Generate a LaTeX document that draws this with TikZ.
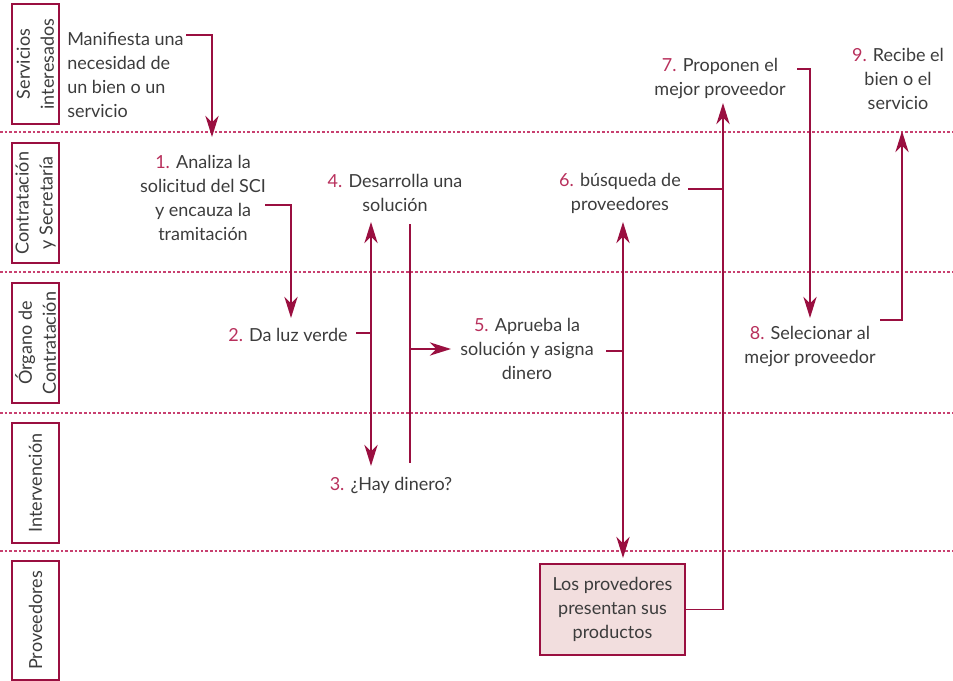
\documentclass[tikz,border=0pt]{standalone}
\usepackage{fontspec}
\setmainfont{Lato}
\usetikzlibrary{arrows.meta}
\definecolor{lncol}{HTML}{9A0F40}
\definecolor{dashcol}{HTML}{C84070}
\definecolor{numcol}{HTML}{B8305C}
\definecolor{txtgray}{HTML}{3C3C3C}
\definecolor{boxfill}{HTML}{F2DEDE}
\newcommand\nm[1]{\textcolor{numcol}{#1}}
\tikzset{
 txt/.style={text=txtgray, font=\fontsize{13.5}{18}\selectfont, align=center, inner sep=0pt},
 lanetxt/.style={txt, rotate=90},
 conn/.style={draw=lncol, line width=1.1pt},
 arr/.style={conn, -{Stealth[length=16pt,width=10pt,inset=5pt]}},
 darr/.style={conn, {Stealth[length=16pt,width=10pt,inset=5pt]}-{Stealth[length=16pt,width=10pt,inset=5pt]}},
 lanebox/.style={draw=lncol, line width=0.9pt},
 sepline/.style={draw=dashcol, line width=0.8pt, dash pattern=on 2pt off 1.5pt},
}
\begin{document}
\begin{tikzpicture}[x=0.75pt,y=-0.75pt]
\useasboundingbox (0,0) rectangle (953,681);
% lanes
\draw[lanebox] (12,4) rectangle (59,124);
\node[lanetxt] (l1) at (35.5,64) {Servicios\\interesados};
\draw[lanebox] (12,143) rectangle (59,263);
\node[lanetxt] (l2) at (35.5,203) {Contratación\\y Secretaría};
\draw[lanebox] (12,283) rectangle (59,403);
\node[lanetxt] (l3) at (35.5,343) {Órgano de\\Contratación};
\draw[lanebox] (12,423) rectangle (59,543);
\node[lanetxt] (l4) at (35.5,483) {Intervención};
\draw[lanebox] (12,561) rectangle (59,680);
\node[lanetxt] (l5) at (35.5,620.5) {Proveedores};
% separators
\coordinate (s1a) at (0,132); \coordinate (s1b) at (953,132);
\coordinate (s2a) at (0,272); \coordinate (s2b) at (953,272);
\coordinate (s3a) at (0,413); \coordinate (s3b) at (953,413);
\coordinate (s4a) at (0,551); \coordinate (s4b) at (953,551);
\draw[sepline] (s1a) -- (s1b);
\draw[sepline] (s2a) -- (s2b);
\draw[sepline] (s3a) -- (s3b);
\draw[sepline] (s4a) -- (s4b);
% texts
\node[txt, align=left, anchor=west] (m) at (67,75) {Manifiesta una\\necesidad de\\un bien o un\\servicio};
\node[txt] (n1) at (203,198) {\nm{1.} Analiza la\\solicitud del SCI\\y encauza la\\tramitación};
\node[txt] (n2) at (288,335) {\nm{2.} Da luz verde};
\node[txt] (n3) at (391,485) {\nm{3.} ¿Hay dinero?};
\node[txt] (n4) at (395,193) {\nm{4.} Desarrolla una\\solución};
\node[txt] (n5) at (527,349) {\nm{5.} Aprueba la\\solución y asigna\\dinero};
\node[txt] (n6) at (620,193) {\nm{6.} búsqueda de\\proveedores};
\node[txt] (n7) at (720,79) {\nm{7.} Proponen el\\mejor proveedor};
\node[txt] (n8) at (810,347) {\nm{8.} Selecionar al\\mejor proveedor};
\node[txt] (n9) at (898,79) {\nm{9.} Recibe el\\bien o el\\servicio};
\node[txt, draw=lncol, line width=0.9pt, fill=boxfill, minimum width=108.75pt, minimum height=68.25pt] (box) at (612.5,609.5) {Los provedores\\presentan sus\\productos};
% connectors
\coordinate (c0a) at (186,35); \coordinate (c0b) at (212,137);
\draw[arr] (c0a) -| (c0b);
\coordinate (c1a) at (265,205); \coordinate (c1b) at (291,318);
\draw[arr] (c1a) -| (c1b);
\coordinate (c2a) at (356,333); \coordinate (c2b) at (371,333);
\draw[conn] (c2a) -- (c2b);
\coordinate (c34a) at (371,222); \coordinate (c34b) at (371,466);
\draw[darr] (c34a) -- (c34b);
\coordinate (c4a) at (410,224); \coordinate (c4b) at (410,463);
\draw[conn] (c4a) -- (c4b);
\coordinate (c45a) at (410,349); \coordinate (c45b) at (451,349);
\draw[arr] (c45a) -- (c45b);
\coordinate (c5a) at (606,351); \coordinate (c5b) at (623,351);
\draw[conn] (c5a) -- (c5b);
\coordinate (c6a) at (623,222); \coordinate (c6b) at (623,558);
\draw[darr] (c6a) -- (c6b);
\coordinate (c7a) at (688,189); \coordinate (c7b) at (723,189);
\draw[conn] (c7a) -- (c7b);
\coordinate (c7t) at (723,103);
\draw[arr] (box.east) -| (c7t);
\coordinate (c8a) at (797,69); \coordinate (c8b) at (810,318);
\draw[arr] (c8a) -| (c8b);
\coordinate (c9a) at (880,320); \coordinate (c9b) at (902,131);
\draw[arr] (c9a) -| (c9b);
\end{tikzpicture}
\end{document}
